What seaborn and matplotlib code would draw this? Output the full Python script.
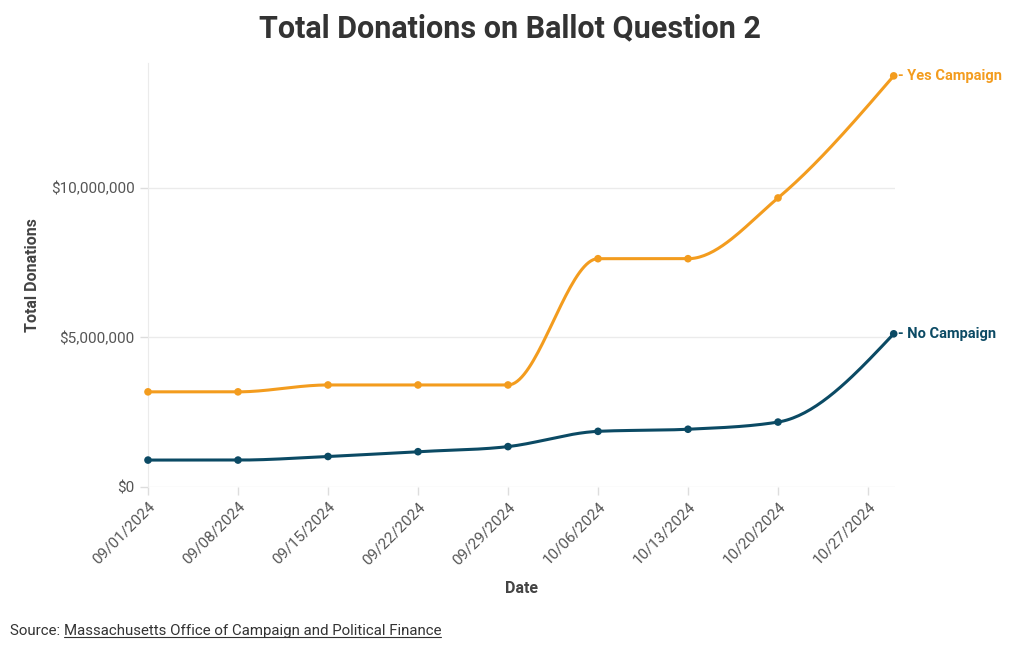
import numpy as np
import pandas as pd
import matplotlib
matplotlib.use("Agg")
import matplotlib.pyplot as plt
import matplotlib.dates as mdates
from matplotlib.ticker import FuncFormatter
import seaborn as sns

# values
dates = ["2024-09-01", "2024-09-08", "2024-09-15", "2024-09-22", "2024-09-29",
         "2024-10-06", "2024-10-13", "2024-10-20", "2024-10-29"]
yes_total = [3.18e6, 3.18e6, 3.41e6, 3.41e6, 3.41e6, 7.63e6, 7.63e6, 9.66e6, 13.74e6]
no_total = [0.90e6, 0.90e6, 1.02e6, 1.18e6, 1.35e6, 1.86e6, 1.93e6, 2.17e6, 5.12e6]
series_names = ["Yes Campaign", "No Campaign"]
tick_dates = ["2024-09-01", "2024-09-08", "2024-09-15", "2024-09-22", "2024-09-29",
              "2024-10-06", "2024-10-13", "2024-10-20", "2024-10-27"]

YES_COL = "#F39C1E"
NO_COL = "#0B4A64"

df = pd.DataFrame({
    "date": pd.to_datetime(dates * 2),
    "total": yes_total + no_total,
    "campaign": [series_names[0]] * len(dates) + [series_names[1]] * len(dates),
})


def monotone_curve(x, y, n=40):
    # monotone cubic path (like d3.curveMonotoneX) through the points
    x = np.asarray(x, float)
    y = np.asarray(y, float)
    h = np.diff(x)
    s = np.diff(y) / h
    m = np.zeros_like(y)
    for i in range(1, len(y) - 1):
        p = (s[i - 1] * h[i] + s[i] * h[i - 1]) / (h[i - 1] + h[i])
        m[i] = (np.sign(s[i - 1]) + np.sign(s[i])) * min(abs(s[i - 1]), abs(s[i]), 0.5 * abs(p))
    m[0] = (3 * s[0] - m[1]) / 2
    m[-1] = (3 * s[-1] - m[-2]) / 2
    xs, ys = [], []
    for i in range(len(h)):
        t = np.linspace(0, 1, n)
        h00 = 2 * t**3 - 3 * t**2 + 1
        h10 = t**3 - 2 * t**2 + t
        h01 = -2 * t**3 + 3 * t**2
        h11 = t**3 - t**2
        xs.append(x[i] + t * h[i])
        ys.append(h00 * y[i] + h10 * h[i] * m[i] + h01 * y[i + 1] + h11 * h[i] * m[i + 1])
    return np.concatenate(xs), np.concatenate(ys)


sns.set_style("white")
plt.rcParams["font.family"] = ["Roboto", "DejaVu Sans"]

fig = plt.figure(figsize=(10.2, 6.5), dpi=100)
ax = fig.add_axes([148 / 1020, 1 - 487 / 650, (895 - 148) / 1020, (487 - 63) / 650])

palette = {series_names[0]: YES_COL, series_names[1]: NO_COL}
sns.scatterplot(data=df, x="date", y="total", hue="campaign", palette=palette,
                s=30, linewidth=0, legend=False, ax=ax, zorder=3, clip_on=False)

for name in series_names:
    sub = df[df["campaign"] == name]
    xnum = mdates.date2num(sub["date"])
    cx, cy = monotone_curve(xnum, sub["total"].values)
    ax.plot(cx, cy, color=palette[name], lw=2.2, zorder=2, solid_capstyle="round", clip_on=False)
    ax.annotate("- " + name, xy=(xnum[-1], sub["total"].values[-1]),
                xytext=(3, 0), textcoords="offset points", va="center", ha="left",
                color=palette[name], fontsize=10.5, fontweight="bold",
                annotation_clip=False)

x0 = mdates.date2num(pd.Timestamp("2024-09-01"))
ax.set_xlim(x0, x0 + (895 - 148) / (90 / 7))
ax.set_ylim(0, 14.17e6)

ax.set_yticks([0, 5e6, 10e6])
ax.yaxis.set_major_formatter(FuncFormatter(lambda v, p: f"${v:,.0f}"))
ax.set_xticks(mdates.date2num(pd.to_datetime(tick_dates)))
ax.xaxis.set_major_formatter(mdates.DateFormatter("%m/%d/%Y"))
plt.setp(ax.get_xticklabels(), rotation=45, ha="right", rotation_mode="anchor")

ax.grid(axis="y", color="#ebebeb", lw=1)
for side in ["top", "right", "bottom"]:
    ax.spines[side].set_visible(False)
ax.spines["left"].set_color("#ebebeb")
ax.tick_params(axis="both", colors="#dddddd", labelcolor="#555555", labelsize=11,
               length=6, width=1, left=True, bottom=True)
ax.tick_params(axis="x", pad=3)

ax.set_ylabel("Total Donations", fontsize=11.5, fontweight="bold", color="#444444", labelpad=8)
ax.set_xlabel("Date", fontsize=11.5, fontweight="bold", color="#444444", labelpad=10)

fig.text(0.5, 1 - 28 / 650, "Total Donations on Ballot Question 2", ha="center", va="center",
         fontsize=22, fontweight="bold", color="#333333")

src = fig.text(10 / 1020, 1 - 631 / 650, "Source: ", ha="left", va="center",
               fontsize=10.8, color="#333333")
fig.canvas.draw()
r = fig.canvas.get_renderer()
bb = src.get_window_extent(r)
link = fig.text(bb.x1 / 1020, 1 - 631 / 650, "Massachusetts Office of Campaign and Political Finance",
                ha="left", va="center", fontsize=10.8, color="#333333")
fig.canvas.draw()
lb = link.get_window_extent(r)
fig.add_artist(plt.Line2D([lb.x0 / 1020, lb.x1 / 1020], [(lb.y0 + 1) / 650] * 2,
                          color="#333333", lw=0.8))

fig.savefig("out.png", dpi=100)
